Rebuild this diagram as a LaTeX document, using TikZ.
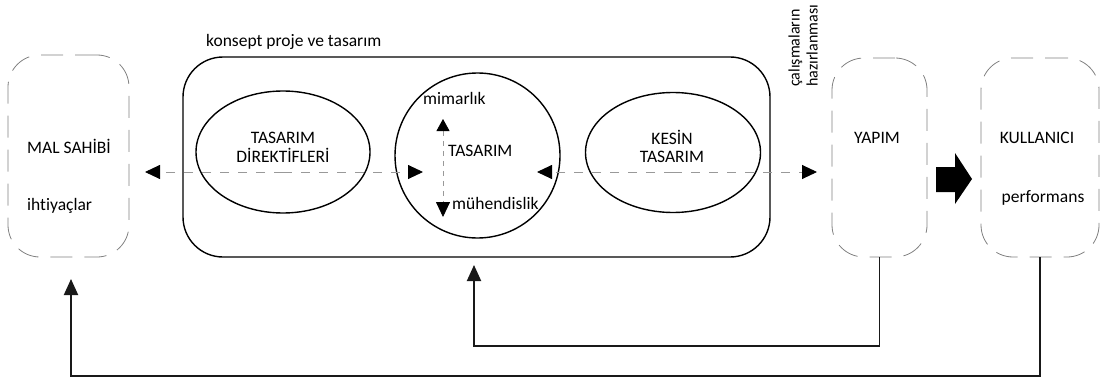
\documentclass[tikz,border=0pt]{standalone}
\usepackage{fontspec}
\setmainfont{Carlito}[Ligatures=NoCommon]
\usetikzlibrary{arrows.meta,calc,shapes.geometric}
\begin{document}
\begin{tikzpicture}[x=1pt,y=-1pt,
  lbl/.style={font=\fontsize{17.5}{19}\selectfont, inner sep=0pt},
  party/.style={draw=black!50, line width=0.8pt, dash pattern=on 22pt off 12pt,
    rounded corners=32pt, inner sep=0pt},
  phase/.style={draw=black, line width=1.4pt},
  flow/.style={draw=black!40, line width=0.9pt, dash pattern=on 9pt off 9pt},
  axis/.style={draw=black!40, line width=0.8pt, dash pattern=on 5pt off 5pt},
  tip/.style={-{Triangle[length=15pt,width=14pt,color=black]}},
  feedback/.style={draw=black!90, line width=1.9pt, -{Triangle[length=16pt,width=14pt]}}]
\useasboundingbox (0,0) rectangle (1102,385);

% actors (dashed rounded boxes)
\node[party, minimum width=121pt, minimum height=202pt] (mal) at (68.5,156) {};
\node[party, minimum width=95pt, minimum height=199pt] (yapim) at (879.5,157.5) {};
\node[party, minimum width=118pt, minimum height=199pt] (kul) at (1040,157.5) {};

% concept design frame
\node[phase, rounded corners=40pt, minimum width=587pt, minimum height=200pt, inner sep=0pt] (konsept) at (476.5,157) {};
\node[lbl, anchor=base west] (konseptlbl) at (206,47) {konsept proje ve tasarım};

% design stages
\node[phase, ellipse, minimum width=174pt, minimum height=122pt, inner sep=0pt] (direktif) at (283,152) {};
\node[phase, circle, minimum size=165pt, inner sep=0pt] (tasarim) at (477.5,155.5) {};
\node[phase, ellipse, minimum width=175pt, minimum height=120pt, inner sep=0pt] (kesin) at (673,152.5) {};

% texts
\node[lbl, anchor=base west] (maltxt) at (27,153) {MAL SAHİBİ};
\node[lbl, anchor=base west] (ihtiyac) at (27,210) {ihtiyaçlar};
\node[lbl, anchor=base] (dir1) at (283,143) {TASARIM};
\node[lbl, anchor=base] (dir2) at (283,162) {DİREKTİFLERİ};
\node[lbl, anchor=base west] (mimar) at (423,105) {mimarlık};
\node[lbl, anchor=base west] (tastxt) at (448,157) {TASARIM};
\node[lbl, anchor=base west] (muhen) at (452,209) {mühendislik};
\node[lbl, anchor=base] (kes1) at (672,144) {KESİN};
\node[lbl, anchor=base] (kes2) at (672,162) {TASARIM};
\node[lbl, anchor=base] (yapimtxt) at (877,143) {YAPIM};
\node[lbl, anchor=base] (kultxt) at (1037,143) {KULLANICI};
\node[lbl, anchor=base] (perf) at (1043,202) {performans};
\node[lbl, font=\fontsize{16}{18}\selectfont, rotate=90, anchor=south west, align=left] (hazirlik) at (818,87) {çalışmaların\\hazırlanması};

% information flow along the design axis
\coordinate (d) at (283,172);
\coordinate (k) at (673,172);
\coordinate (malin) at (145,172);
\coordinate (tasin) at (423,172);
\coordinate (tasout) at (537,172);
\coordinate (yapin) at (817,172);
\draw[flow, tip] (d) -- (malin);
\draw[flow, tip] (d) -- (tasin);
\draw[flow, tip] (k) -- (tasout);
\draw[flow, tip] (k) -- (yapin);

% architecture / engineering axis inside the design circle
\coordinate (up) at (443,119);
\coordinate (down) at (443,217);
\draw[axis, {Triangle[length=12pt,width=13pt,color=black]}-{Triangle[length=15pt,width=14pt,color=black]}] (up) -- (down);

% construction hands over to the user
\fill[black] (936,167) -- (955,167) -- (955,153) -- (972,179) -- (955,204) -- (955,192) -- (936,192) -- cycle;

% feedback loops
\coordinate (fb1) at (474,265);
\coordinate (fb2) at (71,279);
\draw[feedback] (yapim.south) -- ++(0,89) -| (fb1);
\draw[feedback] (kul.south) -- ++(0,119) -| (fb2);
\end{tikzpicture}
\end{document}
